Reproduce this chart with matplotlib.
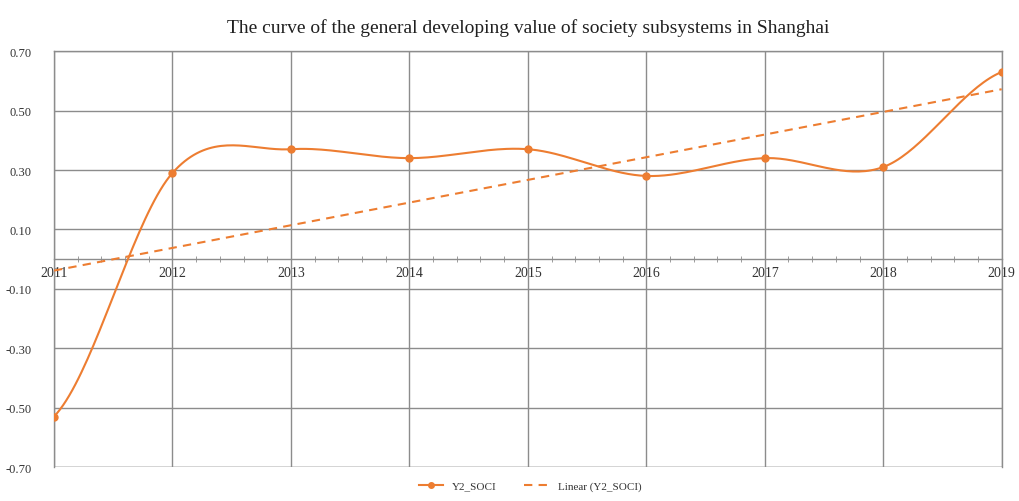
import numpy as np
import matplotlib.pyplot as plt
from matplotlib.ticker import MultipleLocator

years = [2011, 2012, 2013, 2014, 2015, 2016, 2017, 2018, 2019]
y2_soci = [-0.53, 0.29, 0.37, 0.34, 0.37, 0.28, 0.34, 0.31, 0.63]
yticks = [0.70, 0.50, 0.30, 0.10, -0.10, -0.30, -0.50, -0.70]

ORANGE = '#ED7D31'
GRID = '#8c8c8c'


def smooth_curve(x, y, n=40):
    # catmull-rom style smoothing, similar to excel's "smoothed line"
    x = np.asarray(x, float)
    y = np.asarray(y, float)
    px = np.concatenate([[2 * x[0] - x[1]], x, [2 * x[-1] - x[-2]]])
    py = np.concatenate([[y[0]], y, [y[-1]]])
    xs, ys = [], []
    for i in range(1, len(px) - 2):
        p0x, p1x, p2x, p3x = px[i - 1], px[i], px[i + 1], px[i + 2]
        p0y, p1y, p2y, p3y = py[i - 1], py[i], py[i + 1], py[i + 2]
        c1x, c1y = p1x + (p2x - p0x) / 6, p1y + (p2y - p0y) / 6
        c2x, c2y = p2x - (p3x - p1x) / 6, p2y - (p3y - p1y) / 6
        t = np.linspace(0, 1, n)
        bx = (1 - t) ** 3 * p1x + 3 * (1 - t) ** 2 * t * c1x + 3 * (1 - t) * t ** 2 * c2x + t ** 3 * p2x
        by = (1 - t) ** 3 * p1y + 3 * (1 - t) ** 2 * t * c1y + 3 * (1 - t) * t ** 2 * c2y + t ** 3 * p2y
        xs.extend(bx)
        ys.extend(by)
    return np.array(xs), np.array(ys)


plt.rcParams['font.family'] = ['Liberation Serif', 'DejaVu Serif']

fig = plt.figure(figsize=(10.19, 5.02), dpi=100)
ax = fig.add_axes([0.053, 0.0677, 0.93, 0.8283])

x = np.arange(len(years))
sx, sy = smooth_curve(x, y2_soci)
ax.plot(sx, sy, color=ORANGE, lw=1.5, zorder=4)
ax.plot(x, y2_soci, 'o', color=ORANGE, ms=5, zorder=5)
ax.plot([], [], '-o', color=ORANGE, lw=1.5, ms=4, label='Y2_SOCI')

coef = np.polyfit(x, y2_soci, 1)
ax.plot(x, np.polyval(coef, x), '--', color=ORANGE, lw=1.5, dashes=(4, 3),
        label='Linear (Y2_SOCI)', zorder=3)

ax.set_xlim(0, len(years) - 1)
ax.set_ylim(-0.70, 0.70)
ax.set_yticks(yticks)
ax.set_yticklabels([f'{v:.2f}' for v in yticks])
ax.tick_params(axis='y', length=0, pad=16, labelsize=9, labelcolor='#333333')

ax.spines['bottom'].set_position(('data', 0))
for s in ['top', 'left', 'right', 'bottom']:
    ax.spines[s].set_color(GRID)
    ax.spines[s].set_linewidth(1)
ax.set_xticks(x)
ax.set_xticklabels([str(y) for y in years])
ax.xaxis.set_minor_locator(MultipleLocator(0.2))
ax.tick_params(axis='x', which='major', length=0, pad=5, labelsize=10, labelcolor='#333333')
ax.tick_params(axis='x', which='minor', length=4, direction='inout', color=GRID)

ax.grid(True, color=GRID, lw=1)
ax.axhline(-0.70, color=GRID, lw=1)
ax.set_axisbelow(True)

ax.set_title('The curve of the general developing value of society subsystems in Shanghai',
             fontsize=14, pad=14, color='#202020')

fig.legend(loc='lower center', bbox_to_anchor=(0.52, 0.0), ncol=2, frameon=False,
           fontsize=8, handlelength=2.2, columnspacing=2.5, labelcolor='#333333')

fig.savefig('out.png', dpi=100)
